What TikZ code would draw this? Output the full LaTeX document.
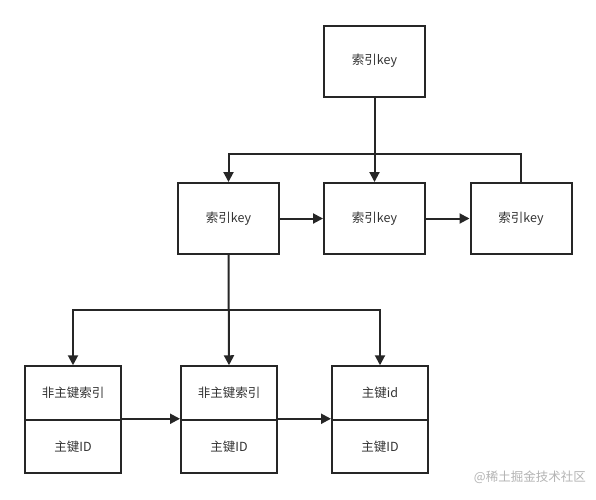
\documentclass[tikz,border=0pt]{standalone}
\usepackage{fontspec}
\setmainfont{Noto Sans CJK SC}
\usetikzlibrary{arrows.meta}
\definecolor{ln}{HTML}{262626}
\definecolor{tx}{HTML}{333333}
\definecolor{wm}{HTML}{B4B4B4}
\tikzset{
  box/.style={draw=ln, line width=2pt, fill=white, inner sep=0pt, text=tx, font=\fontsize{12.5}{14}\selectfont},
  keybox/.style={box, minimum width=101pt, minimum height=71pt},
  cell/.style={box, minimum width=96pt, minimum height=53.5pt},
  conn/.style={draw=ln, line width=2pt},
  arr/.style={conn, -{Triangle[length=10pt,width=10pt]}},
}
\begin{document}
\begin{tikzpicture}[x=1pt,y=-1pt]
\useasboundingbox[fill=white] (0,0) rectangle (596,499);
% top
\node[keybox] (top) at (374.5,61) {索引key};
% row 2
\node[keybox] (k1) at (228.5,218.5) {索引key};
\node[keybox] (k2) at (374.5,218.5) {索引key};
\node[keybox] (k3) at (521,218.5) {索引key};
% row 3
\node[cell] (a1) at (73,393) {非主键索引};
\node[cell] (b1) at (73,446.5) {主键ID};
\node[cell] (a2) at (229,393) {非主键索引};
\node[cell] (b2) at (229,446.5) {主键ID};
\node[cell] (a3) at (380,393) {主键id};
\node[cell] (b3) at (380,446.5) {主键ID};
% coordinates
\coordinate (j1) at (374.5,154);
\coordinate (j2) at (229,310);
% connectors top -> row2
\draw[arr] (top.south) -- (k2.north);
\draw[arr] (k3.north) |- (j1) -| (k1.north);
\draw[arr] (k1.east) -- (k2.west);
\draw[arr] (k2.east) -- (k3.west);
% row2 -> row3
\draw[arr] (k1.south) -- (a2.north);
\draw[arr] (j2) -| (a1.north);
\draw[arr] (j2) -| (a3.north);
\draw[arr] (b1.north east) -- (b2.north west);
\draw[arr] (b2.north east) -- (b3.north west);
% watermark
\node[anchor=east, text=wm, font=\fontsize{12.5}{14}\selectfont, inner sep=0pt] (wmk) at (586,477) {@稀土掘金技术社区};
\end{tikzpicture}
\end{document}
